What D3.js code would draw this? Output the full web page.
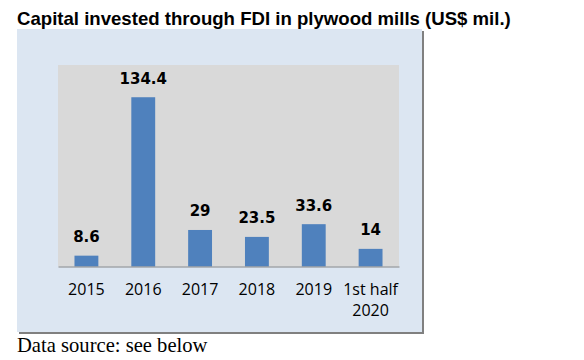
<!DOCTYPE html>
<html><head><meta charset="utf-8">
<script src="https://cdn.jsdelivr.net/npm/d3@7"></script>
<style>body{margin:0;background:#fff;}svg{display:block;}</style>
</head><body>
<svg id="c" width="584" height="360"></svg>
<script>
const categories = ["2015", "2016", "2017", "2018", "2019", "1st half|2020"];
const values = [8.6, 134.4, 29, 23.5, 33.6, 14];
const valueLabels = ["8.6", "134.4", "29", "23.5", "33.6", "14"];
const title = "Capital invested through FDI in plywood mills (US$ mil.)";
const source = "Data source: see below";

const svg = d3.select("#c");
// title
svg.append("text").attr("x", 17).attr("y", 25)
  .attr("font-family", "Liberation Sans, Arial, sans-serif").attr("font-weight", "bold")
  .attr("font-size", 18.6).attr("fill", "#000").text(title);
// outer frame with shadow
svg.append("rect").attr("x", 19).attr("y", 31).attr("width", 405).attr("height", 303).attr("fill", "#808080");
svg.append("rect").attr("x", 17).attr("y", 29).attr("width", 405).attr("height", 303).attr("fill", "#dce6f2");

const plot = {x0: 58, x1: 399, y0: 65, y1: 266.5};
svg.append("rect").attr("x", plot.x0).attr("y", plot.y0).attr("width", plot.x1 - plot.x0)
  .attr("height", plot.y1 - plot.y0).attr("fill", "#d9d9d9");

const x = d3.scaleBand().domain(categories).range([plot.x0, plot.x1]).paddingInner(0.58).paddingOuter(0.29);
const y = d3.scaleLinear().domain([0, 160]).range([plot.y1, plot.y0]);

svg.selectAll("rect.bar").data(values).enter().append("rect").attr("class", "bar")
  .attr("x", (d, i) => x(categories[i])).attr("width", x.bandwidth())
  .attr("y", d => y(d)).attr("height", d => y(0) - y(d)).attr("fill", "#4f81bd");

svg.selectAll("text.vl").data(values).enter().append("text").attr("class", "vl")
  .attr("x", (d, i) => x(categories[i]) + x.bandwidth() / 2).attr("y", d => y(d) - 13.5)
  .attr("text-anchor", "middle").attr("font-family", "DejaVu Sans, Verdana, sans-serif")
  .attr("font-weight", "bold").attr("font-size", 15).attr("fill", "#000")
  .text((d, i) => valueLabels[i]);

const axis = d3.axisBottom(x).tickSize(0).tickPadding(0);
const g = svg.append("g").attr("transform", `translate(0,${plot.y1})`).call(axis);
g.select(".domain").attr("stroke", "#868686").attr("stroke-width", 1.2);
g.selectAll(".tick text").remove();
g.selectAll(".tick").each(function(d) {
  const t = d3.select(this).append("text").attr("text-anchor", "middle")
    .attr("font-family", "Open Sans, sans-serif").attr("font-size", 16).attr("fill", "#000");
  d.split("|").forEach((line, k) => {
    t.append("tspan").attr("x", 0).attr("y", 28 + k * 21).text(line);
  });
});

svg.append("text").attr("x", 17).attr("y", 352)
  .attr("font-family", "Liberation Serif, Times New Roman, serif")
  .attr("font-size", 20.6).attr("fill", "#000").text(source);
</script>
</body></html>
